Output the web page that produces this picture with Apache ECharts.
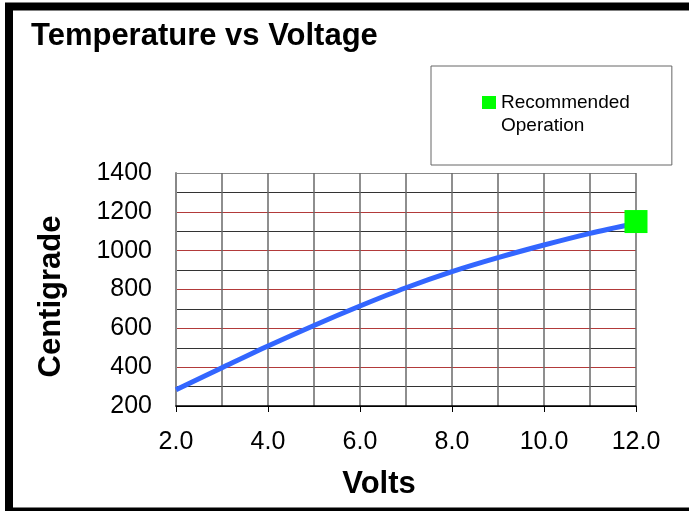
<!DOCTYPE html>
<html lang="en">

<head>
  <meta charset="UTF-8">
  <title>Temperature vs Voltage</title>
  <script src="https://cdn.jsdelivr.net/npm/echarts@6/dist/echarts.min.js"></script>
  <style>
    body {
      margin: 0;
      background: #fff;
    }

    #chart {
      width: 689px;
      height: 511px;
    }
  </style>
</head>

<body>
<div id="chart"></div>
</body>

<script>
  // values
  let volts = [2, 3, 4, 5, 6, 7, 8, 9, 10, 11, 12];
  let centigrade = [284, 397, 509, 615, 715, 809, 892, 964, 1029, 1089, 1141];
  let recommendedVolts = [12];
  let recommendedTemp = [1150];
  let legendName = 'Recommended\nOperation';

  let curveData = volts.map(function (v, i) {
    return [v, centigrade[i]];
  });
  let pointData = recommendedVolts.map(function (v, i) {
    return [v, recommendedTemp[i]];
  });

  const font = "'Liberation Sans', Arial, sans-serif";
  const red = '#b23a3a';
  const grey = '#6a6a6a';

  echarts.init(document.getElementById('chart')).setOption({
    animation: false,
    backgroundColor: '#fff',
    textStyle: {fontFamily: font, color: '#000'},
    title: {
      text: 'Temperature vs Voltage',
      left: 31,
      top: 21,
      padding: 0,
      textStyle: {fontSize: 31, fontWeight: 'bold', color: '#000', fontFamily: font}
    },
    legend: {
      left: 431,
      top: 66,
      orient: 'vertical',
      padding: [25, 42, 28, 51],
      backgroundColor: '#fff',
      borderColor: '#666',
      borderWidth: 1,
      borderRadius: 0,
      itemWidth: 14,
      itemHeight: 46,
      itemStyle: {opacity: 1},
      textStyle: {fontSize: 19, lineHeight: 23, color: '#000', fontFamily: font},
      data: [{
        name: legendName,
        icon: 'path://M0,0h0.05v0.05h-0.05z M0,5h14v13h-14z M13.95,45.95h0.05v0.05h-0.05z'
      }]
    },
    grid: {left: 176, right: 53, top: 173, bottom: 105},
    xAxis: {
      type: 'value',
      min: 2,
      max: 12,
      interval: 2,
      name: 'Volts',
      nameLocation: 'middle',
      nameGap: 63,
      nameTextStyle: {
        fontSize: 31, fontWeight: 'bold', color: '#000', fontFamily: font,
        padding: [0, 54, 0, 0]
      },
      axisLine: {lineStyle: {color: '#000', width: 1.5}},
      axisTick: {show: true, length: 6, lineStyle: {color: '#000'}},
      minorTick: {show: false, splitNumber: 2},
      axisLabel: {
        fontSize: 25,
        margin: 24,
        color: '#000',
        formatter: function (v) {
          return v.toFixed(1);
        }
      },
      splitLine: {show: true, lineStyle: {color: grey, width: 1.5}},
      minorSplitLine: {show: true, lineStyle: {color: grey, width: 1.5}}
    },
    yAxis: {
      type: 'value',
      min: 200,
      max: 1400,
      interval: 200,
      name: 'Centigrade',
      nameLocation: 'middle',
      nameGap: 109,
      nameTextStyle: {
        fontSize: 31, fontWeight: 'bold', color: '#000', fontFamily: font,
        padding: [0, 14, 0, 0]
      },
      axisLine: {show: true, lineStyle: {color: '#888', width: 2}},
      axisTick: {show: false},
      minorTick: {show: false, splitNumber: 2},
      axisLabel: {
        fontSize: 25,
        margin: 24,
        color: '#000',
        formatter: function (v) {
          return String(v);
        }
      },
      splitLine: {
        show: true,
        lineStyle: {color: ['#000', red, red, red, red, red, '#888'], width: 1}
      },
      minorSplitLine: {show: true, lineStyle: {color: '#333', width: 1}}
    },
    series: [{
      name: 'Temperature',
      type: 'line',
      data: curveData,
      smooth: 0.3,
      showSymbol: false,
      lineStyle: {color: '#3366ff', width: 5},
      z: 3
    }, {
      name: legendName,
      type: 'scatter',
      data: pointData,
      symbol: 'rect',
      symbolSize: [23, 23],
      itemStyle: {color: '#00ff00', opacity: 1},
      z: 4
    }],
    graphic: [{
      type: 'rect',
      silent: true,
      shape: {x: 9, y: 6.5, width: 720, height: 505},
      style: {fill: 'none', stroke: '#000', lineWidth: 8}
    }]
  });
</script>

</html>
